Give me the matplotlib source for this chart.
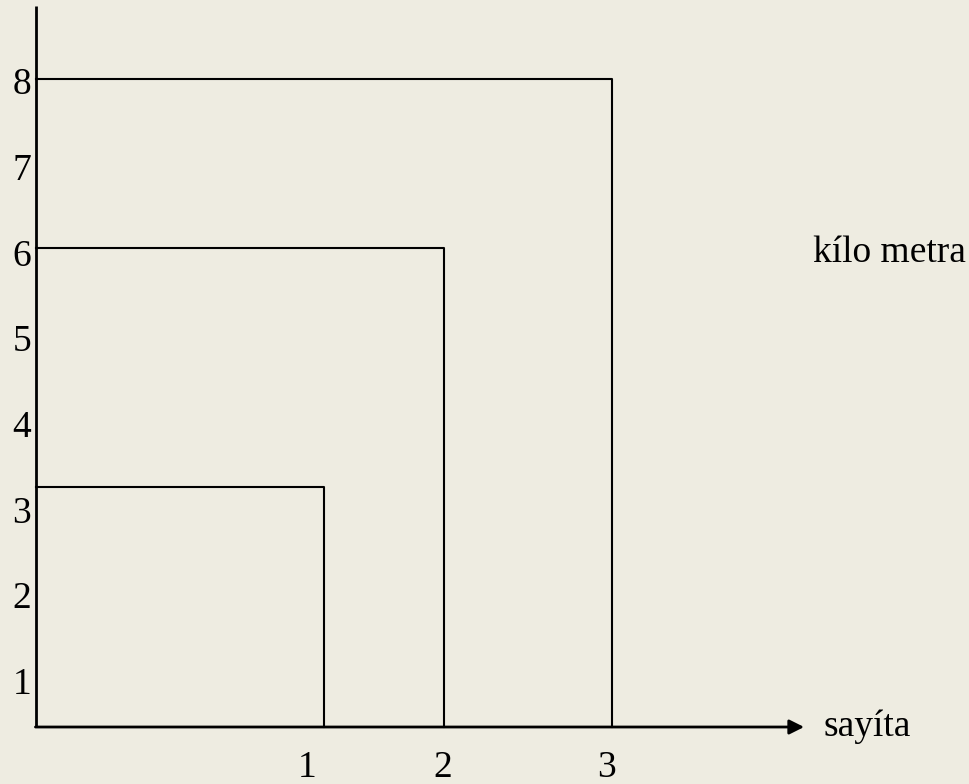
import matplotlib.pyplot as plt

# hours on the x axis, kilometres on the y axis
hours = ["1", "2", "3"]
km_labels = ["1", "2", "3", "4", "5", "6", "7", "8"]

# rectangle corners as drawn (x in drawing units, y in km)
rect_right = [1.5, 2.125, 3.0]
rect_top = [3.26, 6.05, 8.02]

# where the hour labels sit under the axis
hour_label_x = [1.41, 2.12, 2.97]

bg = "#EEECE1"
plt.rcParams["font.family"] = ["Liberation Serif", "DejaVu Serif"]

fig = plt.figure(figsize=(9.69, 7.84), dpi=100, facecolor=bg)
ax = fig.add_axes([0, 0, 1, 1])
ax.set_facecolor(bg)
ax.set_xlim(-0.1875, 4.859)
ax.set_ylim(-0.202, 8.946)
ax.axis("off")

y0 = 0.463  # where the x axis is drawn

# axes
ax.plot([0, 0], [y0, 8.876], color="black", lw=2.0, solid_capstyle="butt")
ax.annotate("", xy=(4.0, y0), xytext=(-0.003, y0),
            arrowprops=dict(arrowstyle="-|>", lw=2.0, color="black",
                            mutation_scale=22, shrinkA=0, shrinkB=0))

# the rectangles
for x, y in zip(rect_right, rect_top):
    ax.plot([0, x, x], [y, y, y0], color="black", lw=1.5)

# tick labels
for i, lab in enumerate(km_labels):
    ax.text(-0.025, i + 1 - 0.045, lab, ha="right", va="center", fontsize=27)
for x, lab in zip(hour_label_x, hours):
    ax.text(x, -0.01, lab, ha="center", va="center", fontsize=27)

ax.text(4.099, y0, "sayíta", ha="left", va="center", fontsize=27)
ax.text(4.047, 6.0, "kílo metra", ha="left", va="center", fontsize=27)

fig.savefig("out.png", dpi=100, facecolor=bg)
